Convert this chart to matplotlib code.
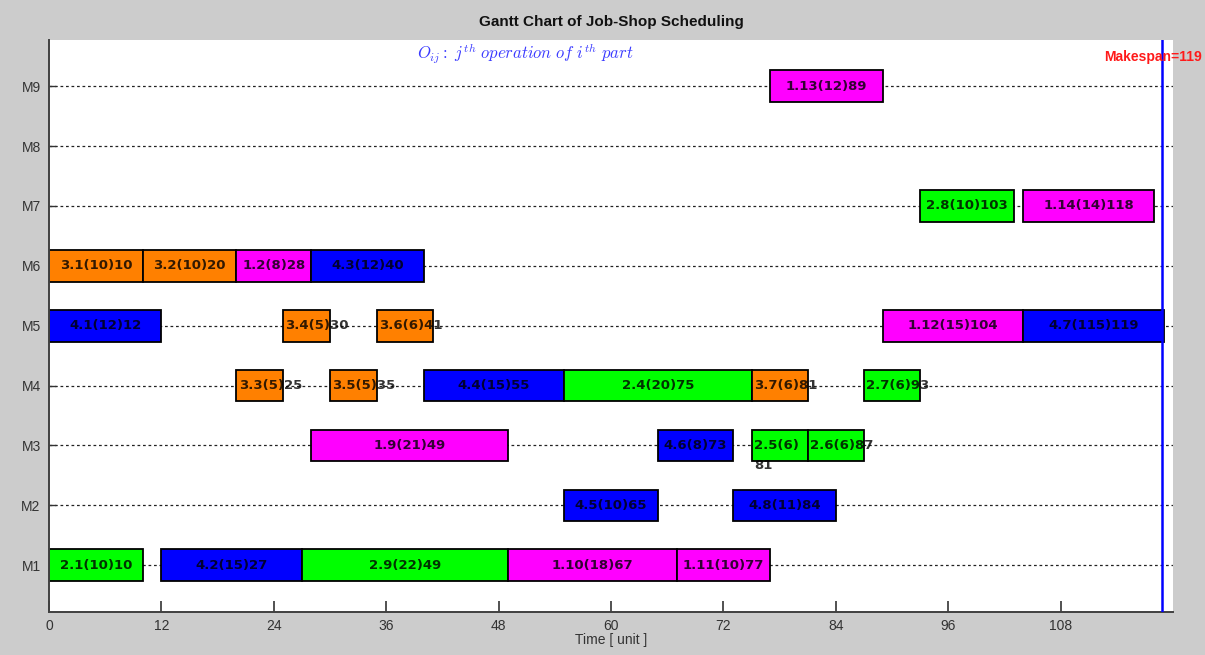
import matplotlib
matplotlib.use("Agg")
import matplotlib.pyplot as plt

# Machines (rows, bottom to top) and the scheduled operations
machines = ["M1", "M2", "M3", "M4", "M5", "M6", "M7", "M8", "M9"]

op_machine = [1, 1, 1, 1, 1,
              2, 2,
              3, 3, 3, 3,
              4, 4, 4, 4, 4, 4,
              5, 5, 5, 5, 5,
              6, 6, 6, 6,
              7, 7,
              9]
op_job = [2, 4, 2, 1, 1,
          4, 4,
          1, 4, 2, 2,
          3, 3, 4, 2, 3, 2,
          4, 3, 3, 1, 4,
          3, 3, 1, 4,
          2, 1,
          1]
op_start = [0, 12, 27, 49, 67,
            55, 73,
            28, 65, 75, 81,
            20, 30, 40, 55, 75, 87,
            0, 25, 35, 89, 104,
            0, 10, 20, 28,
            93, 104,
            77]
op_dur = [10, 15, 22, 18, 10,
          10, 11,
          21, 8, 6, 6,
          5, 5, 15, 20, 6, 6,
          12, 5, 6, 15, 15,
          10, 10, 8, 12,
          10, 14,
          12]
op_label = ["2.1(10)10", "4.2(15)27", "2.9(22)49", "1.10(18)67", "1.11(10)77",
            "4.5(10)65", "4.8(11)84",
            "1.9(21)49", "4.6(8)73", "2.5(6)\n81", "2.6(6)87",
            "3.3(5)25", "3.5(5)35", "4.4(15)55", "2.4(20)75", "3.7(6)81", "2.7(6)93",
            "4.1(12)12", "3.4(5)30", "3.6(6)41", "1.12(15)104", "4.7(115)119",
            "3.1(10)10", "3.2(10)20", "1.2(8)28", "4.3(12)40",
            "2.8(10)103", "1.14(14)118",
            "1.13(12)89"]

makespan = 119
x_ticks = [0, 12, 24, 36, 48, 60, 72, 84, 96, 108]

job_colors = {1: "#ff00ff", 2: "#00ff00", 3: "#ff8000", 4: "#0000ff"}

fig = plt.figure(figsize=(12.05, 6.55), dpi=100, facecolor="#cccccc")
ax = fig.add_axes([49 / 1205, 43 / 655, (1173 - 49) / 1205, (612 - 40) / 655])
ax.set_facecolor("white")

rows = list(range(1, len(machines) + 1))
ax.set_xlim(0, 120)
ax.set_ylim(0.22, 9.77)

# dotted guide line for every machine
ax.hlines(rows, 0, 120, colors="#222222", linestyles=(0, (2.2, 2.2)),
          linewidth=0.9, zorder=1)

bar_h = 0.53
ax.barh(op_machine, op_dur, left=op_start, height=bar_h,
        color=[job_colors[j] for j in op_job], edgecolor="black",
        linewidth=1.3, zorder=2)

for m, s, d, lab in zip(op_machine, op_start, op_dur, op_label):
    lines = lab.split("\n")
    if d <= 6:
        x, ha = s + 0.25, "left"
    else:
        x, ha = s + d / 2, "center"
    for k, line in enumerate(lines):
        ax.text(x, m - 0.33 * k, line, ha=ha, va="center", fontsize=9.5,
                fontweight="bold", color="black", alpha=0.8, zorder=3,
                family="DejaVu Sans")

# makespan marker
ax.axvline(makespan - 0.15, color="#0000ff", linewidth=1.8, zorder=4)
ax.text(112.7, 9.48, "Makespan=%d" % makespan, color="#ff1a1a", fontsize=10,
        fontweight="bold", ha="left", va="center", family="Liberation Sans",
        clip_on=False, zorder=5)

ax.text(50.9, 9.53, r"$O_{ij}:\ j^{th}\ operation\ of\ i^{th}\ part$",
        color="#3a3aff", fontsize=12, ha="center", va="center",
        math_fontfamily="cm")

ax.set_yticks(rows)
ax.set_yticklabels(machines)
ax.set_xticks(x_ticks)
ax.tick_params(axis="both", direction="in", colors="#333333", labelsize=10,
               labelcolor="#333333")
ax.tick_params(axis="x", length=8, width=1.2, pad=5)
ax.tick_params(axis="y", length=5, width=1.0, pad=6)
for lbl in ax.get_xticklabels() + ax.get_yticklabels():
    lbl.set_family("Liberation Sans")

for side in ("top", "right"):
    ax.spines[side].set_visible(False)
for side in ("left", "bottom"):
    ax.spines[side].set_color("#404040")
    ax.spines[side].set_linewidth(1.4)

ax.set_xlabel("Time [ unit ]", fontsize=10, color="#333333",
              family="Liberation Sans", labelpad=0)
fig.text(611 / 1205, 1 - 22 / 655, "Gantt Chart of Job-Shop Scheduling",
         ha="center", va="center", fontsize=11, fontweight="bold",
         family="Liberation Sans", color="#111111")

fig.savefig("out.png", dpi=100, facecolor=fig.get_facecolor())
